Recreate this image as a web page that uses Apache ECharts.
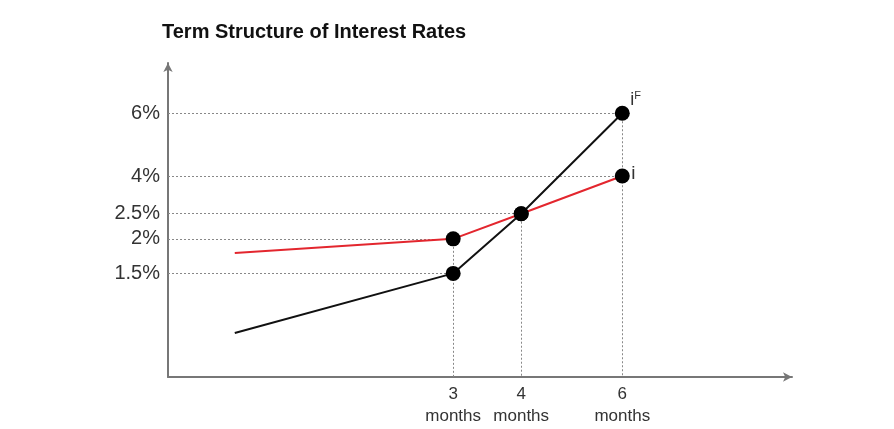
<!DOCTYPE html>
<html>
<head>
<meta charset="utf-8">
<script src="https://cdn.jsdelivr.net/npm/echarts@6/dist/echarts.min.js"></script>
<style>
  html, body { margin: 0; padding: 0; background: #fff; }
  #chart { width: 894px; height: 429px; }
</style>
</head>
<body>
<div id="chart"></div>
<script>
// the picture is a sketch, not to scale: each tick has its own drawn height / position
const rateTicks = [1.5, 2, 2.5, 4, 6];
const rateLevel = [33, 44, 52, 64, 84];     // schematic height of each rate tick
const terms = [3, 4, 6];                    // months
const termPos = [45.7, 56.6, 72.8];         // schematic position of each term
const startPos = 10.7;

// spot rate i (red) and forward rate iF (black) at 3, 4, 6 months
const spotRate = [2, 2.5, 4];
const fwdRate = [1.5, 2.5, 6];
const spotStart = 39.5;   // unlabelled start heights (below the ticks)
const fwdStart = 14;

const FONT = 'Liberation Sans, Arial, sans-serif';

function level(r) { return rateLevel[rateTicks.indexOf(r)]; }

function buildData(start, rates) {
  let d = [{ value: [startPos, start], symbol: 'none' }];
  rates.forEach((r, k) => d.push([termPos[k], level(r)]));
  return d;
}

// dotted guides: horizontal from the y axis to every dot, vertical from the top dot down
let guides = [];
terms.forEach((t, k) => {
  [spotRate[k], fwdRate[k]].forEach(r => {
    guides.push([{ coord: [0, level(r)] }, { coord: [termPos[k], level(r)] }]);
  });
  let top = Math.max(level(spotRate[k]), level(fwdRate[k]));
  guides.push([{ coord: [termPos[k], top] }, { coord: [termPos[k], 0] }]);
});

let chart = echarts.init(document.getElementById('chart'));
let option = {
  animation: false,
  title: {
    text: 'Term Structure of Interest Rates',
    left: 157,
    top: 17,
    textStyle: { fontFamily: FONT, fontSize: 20, fontWeight: 'bold', color: '#111' }
  },
  grid: { left: 168, right: 102, top: 63, bottom: 52 },
  xAxis: {
    type: 'value', min: 0, max: 100,
    axisLine: { show: true, symbol: ['none', 'arrow'], symbolSize: [7, 9], lineStyle: { color: '#777', width: 2 } },
    axisTick: { show: false },
    splitLine: { show: false },
    axisLabel: {
      customValues: termPos,
      margin: 6,
      fontFamily: FONT, fontSize: 17, lineHeight: 22, color: '#333',
      formatter: v => terms[termPos.indexOf(v)] + '\nmonths'
    }
  },
  yAxis: {
    type: 'value', min: 0, max: 100,
    axisLine: { show: true, symbol: ['none', 'arrow'], symbolSize: [7, 9], lineStyle: { color: '#777', width: 2 } },
    axisTick: { show: false },
    splitLine: { show: false },
    axisLabel: {
      customValues: rateLevel,
      margin: 8,
      fontFamily: FONT, fontSize: 20, color: '#333',
      formatter: v => rateTicks[rateLevel.indexOf(v)] + '%'
    }
  },
  series: [
    {
      name: 'guides', type: 'line', data: [], silent: true, z: 1,
      markLine: {
        silent: true, symbol: 'none', animation: false, z: 1,
        label: { show: false },
        lineStyle: { type: [2, 2], color: '#888', width: 1 },
        data: guides
      }
    },
    {
      name: 'i', type: 'line', z: 3,
      data: buildData(spotStart, spotRate),
      symbol: 'circle', symbolSize: 15,
      lineStyle: { color: '#e3262e', width: 2 },
      itemStyle: { color: '#000', borderWidth: 0 },
      emphasis: { disabled: true },
      endLabel: {
        show: true, formatter: 'i', distance: 9, offset: [0, -2],
        fontFamily: FONT, fontSize: 19, color: '#333'
      }
    },
    {
      name: 'iF', type: 'line', z: 4,
      data: buildData(fwdStart, fwdRate),
      symbol: 'circle', symbolSize: 15,
      lineStyle: { color: '#111', width: 2 },
      itemStyle: { color: '#000', borderWidth: 0 },
      emphasis: { disabled: true },
      endLabel: {
        show: true, formatter: '{i|i}{f|F}', distance: 8, offset: [0, -13],
        rich: {
          i: { fontFamily: FONT, fontSize: 18, color: '#333' },
          f: { fontFamily: FONT, fontSize: 11, color: '#333', padding: [0, 0, 9, 0] }
        }
      }
    }
  ]
};
chart.setOption(option);
</script>
</body>
</html>
